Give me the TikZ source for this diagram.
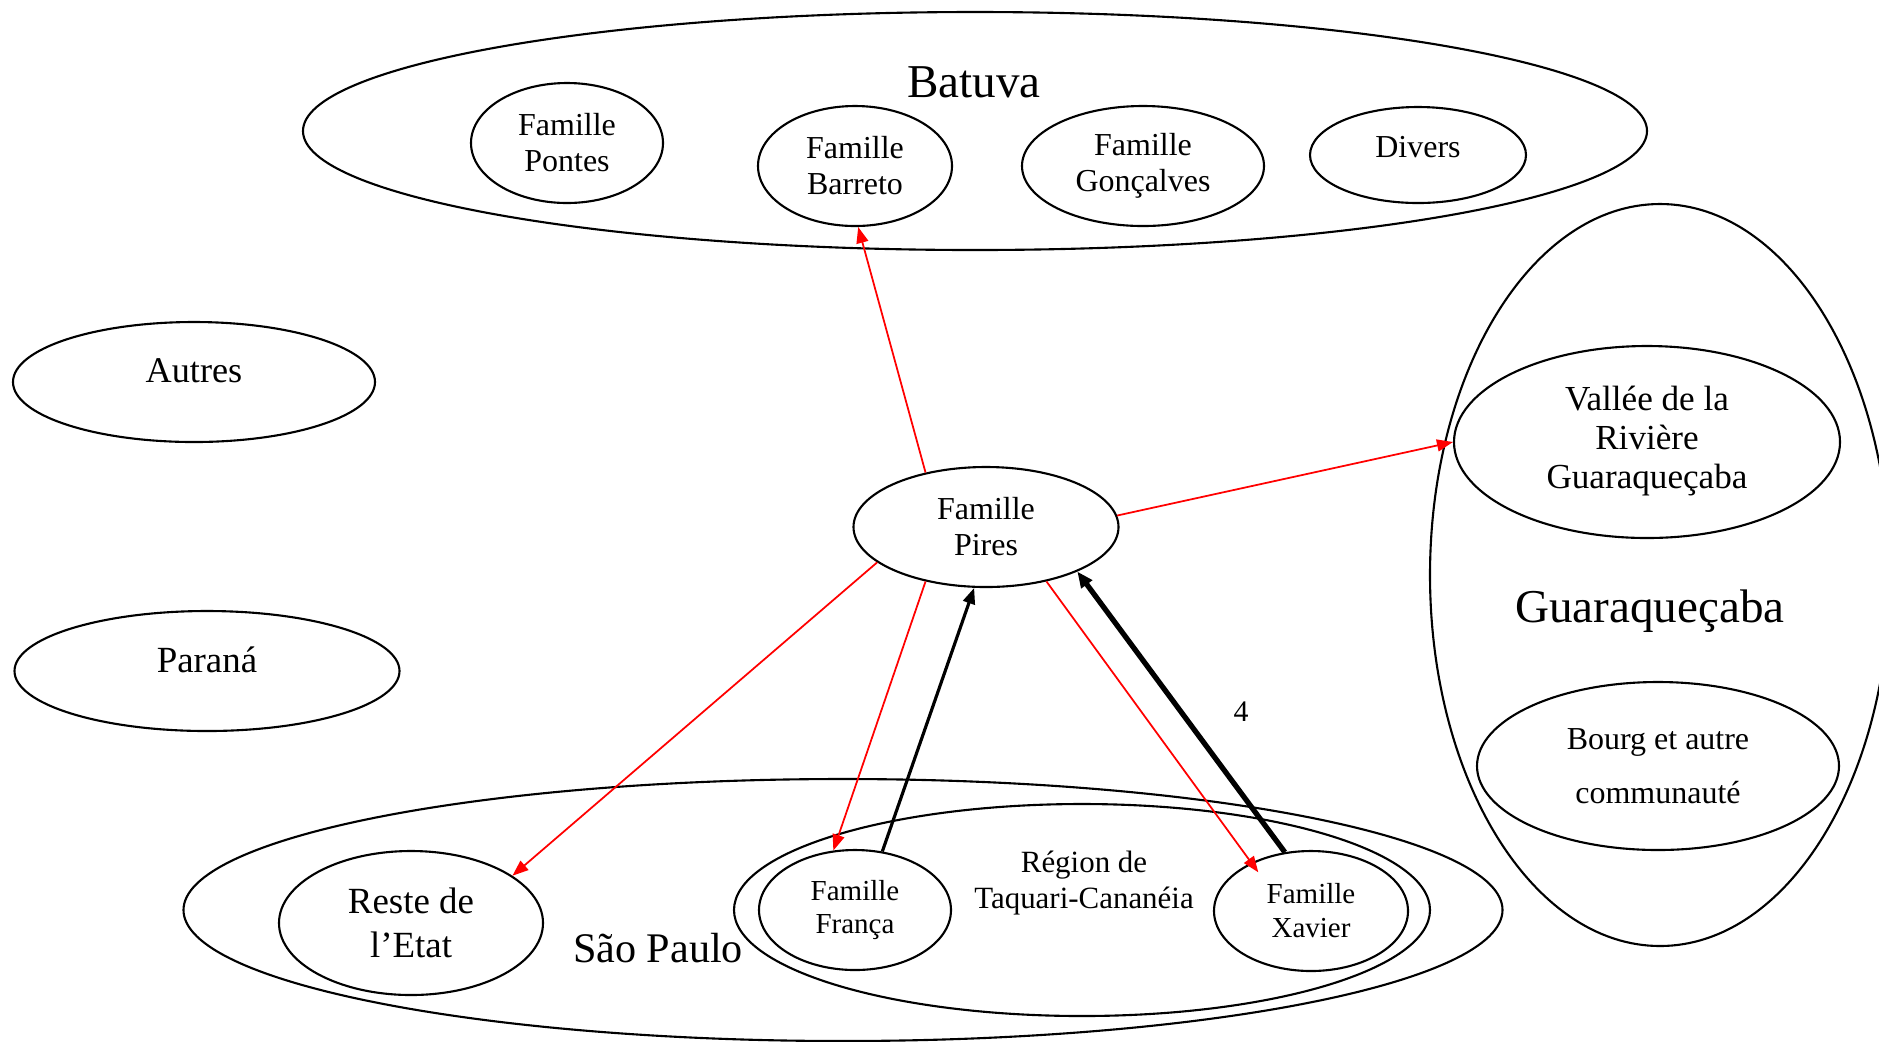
\documentclass[tikz,border=0pt]{standalone}
\usepackage{fontspec}
\setmainfont{Liberation Serif}
\usetikzlibrary{shapes.geometric,arrows.meta}

\tikzset{
  zone/.style={draw, ellipse, line width=0.6pt, inner sep=0pt, align=center},
  haut/.style={text depth=2.3mm},
  lien/.style={red, line width=0.5pt, -{Triangle[length=1.6mm,width=1.2mm]}},
  retour/.style={black, line width=0.9pt, -{Triangle[length=1.6mm,width=1.2mm]}},
  retourfort/.style={black, line width=1.5pt, -{Triangle[length=1.6mm,width=1.3mm]}},
}

\begin{document}
\begin{tikzpicture}
		\useasboundingbox (0,0) rectangle (18.79,-10.41);

		% >>> regions
		\node[zone,minimum width=13.44cm,minimum height=2.38cm] (batuva) at (9.75,-1.31) {};
		\node[zone,minimum width=4.60cm,minimum height=7.42cm] (guara) at (16.60,-5.75) {};
		\node[zone,minimum width=13.19cm,minimum height=2.62cm] (saopaulo) at (8.43,-9.10) {};
		\node[zone,minimum width=6.96cm,minimum height=2.12cm] (taquari) at (10.82,-9.10) {};

		\node[anchor=base,font=\fontsize{13.4}{15}\selectfont] (batuvatxt) at (9.74,-0.97) {Batuva};
		\node[anchor=base,font=\fontsize{13.4}{15}\selectfont] (guaratxt) at (16.50,-6.22) {Guaraqueçaba};
		\node[anchor=base,font=\fontsize{12}{14}\selectfont] (saopaulotxt) at (6.58,-9.62) {São Paulo};
		\node[align=center,font=\fontsize{8.8}{10.24}\selectfont] (taquaritxt) at (10.84,-8.83) {Région de\\Taquari-Cananéia};
		% <<< regions

		% >>> familles et lieux
		\node[zone,minimum width=1.92cm,minimum height=1.2cm,font=\fontsize{9.1}{10.24}\selectfont] (pontes) at (5.67,-1.43) {Famille\\Pontes};
		\node[zone,minimum width=1.94cm,minimum height=1.2cm,font=\fontsize{9.1}{10.24}\selectfont] (barreto) at (8.55,-1.66) {Famille\\Barreto};
		\node[zone,minimum width=2.42cm,minimum height=1.2cm,font=\fontsize{9.1}{10.24}\selectfont] (goncalves) at (11.43,-1.66) {Famille\\Gonçalves};
		\node[zone,text depth=1.6mm,minimum width=2.16cm,minimum height=0.96cm,font=\fontsize{9.1}{10.24}\selectfont] (divers) at (14.18,-1.55) {Divers};

		\node[zone,haut,minimum width=3.62cm,minimum height=1.2cm,font=\fontsize{10.3}{12}\selectfont] (autres) at (1.94,-3.82) {Autres};
		\node[zone,haut,minimum width=3.85cm,minimum height=1.2cm,font=\fontsize{10.5}{12}\selectfont] (parana) at (2.07,-6.71) {Paraná};

		\node[zone,minimum width=2.65cm,minimum height=1.2cm,font=\fontsize{9.1}{10.24}\selectfont] (pires) at (9.86,-5.27) {Famille\\Pires};

		\node[zone,text depth=1.0mm,minimum width=3.86cm,minimum height=1.92cm,font=\fontsize{10}{11.1}\selectfont] (vallee) at (16.47,-4.42) {Vallée de la\\Rivière\\Guaraqueçaba};
		\node[zone,minimum width=3.62cm,minimum height=1.68cm,font=\fontsize{9.1}{15.4}\selectfont] (bourg) at (16.58,-7.66) {Bourg et autre\\communauté};

		\node[zone,minimum width=2.64cm,minimum height=1.44cm,font=\fontsize{10.5}{12.5}\selectfont] (reste) at (4.11,-9.23) {Reste de\\l’Etat};
		\node[zone,minimum width=1.92cm,minimum height=1.2cm,font=\fontsize{8.25}{9.67}\selectfont] (franca) at (8.55,-9.10) {Famille\\França};
		\node[zone,minimum width=1.94cm,minimum height=1.2cm,font=\fontsize{8.25}{9.67}\selectfont] (xavier) at (13.11,-9.11) {Famille\\Xavier};
		% <<< familles et lieux

		% >>> flux
		\draw[lien] (pires.138) -- (barreto.273);
		\draw[lien] (pires.5) -- (vallee.west);
		\draw[lien] (pires.198) -- (reste.25);
		\draw[lien] (pires.222) -- (franca.110);
		\draw[lien,shorten >=-1.2mm] (pires.318) -- (xavier.141);

		\draw[retour] (franca.65) -- (pires.259);
		\draw[retourfort] (xavier.114) -- (pires.334);
		\node[font=\fontsize{8.5}{10}\selectfont] (nb) at (12.41,-7.12) {4};
		% <<< flux

	\end{tikzpicture}
\end{document}
